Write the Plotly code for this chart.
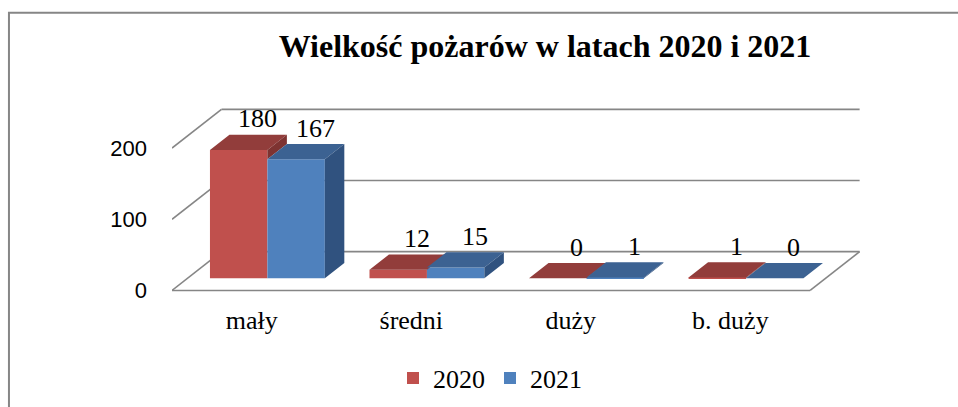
import plotly.graph_objects as go

# ---------------- data ----------------
categories = ["mały", "średni", "duży", "b. duży"]
series_names = ["2020", "2021"]
values_2020 = [180, 12, 0, 1]
values_2021 = [167, 15, 1, 0]
y_tick_values = [0, 100, 200]
chart_title = "Wielkość pożarów w latach 2020 i 2021"

# ---------------- styling / geometry ----------------
W, H = 958, 407
PX_PER_X = 159.5
PX_PER_V = 0.71
FRONT_LEFT_PX = 172
ZERO_PX = 290
X_RANGE = [-0.5, 3.85]
Y_RANGE = [-12, 262]

DX = 0.31
DY = 54.5
F1, F2 = 0.316, 0.71
BAR_W = 0.36

RED, RED_TOP, RED_SIDE = "#C0504D", "#923D3B", "#7E3331"
BLUE, BLUE_TOP, BLUE_SIDE = "#4F81BD", "#3C6292", "#30527F"
GRID = "#868686"
SERIF = "serif"
TITLE_FONT = "Liberation Serif"
SANS = "Arial"

m_l = FRONT_LEFT_PX
plot_w = PX_PER_X * (X_RANGE[1] - X_RANGE[0])
m_r = W - m_l - plot_w
m_t = ZERO_PX - PX_PER_V * Y_RANGE[1]
plot_bottom = ZERO_PX - PX_PER_V * Y_RANGE[0]
m_b = H - plot_bottom
plot_h = plot_bottom - m_t


def proj(x, v, f):
    return x + f * DX, v + f * DY


def poly(points):
    xs, ys = [], []
    for (x, v, f) in points:
        px, py = proj(x, v, f)
        xs.append(px)
        ys.append(py)
    xs.append(xs[0])
    ys.append(ys[0])
    return xs, ys


def paper_x(px):
    return (px - m_l) / plot_w


def paper_y(py):
    return (plot_bottom - py) / plot_h


fig = go.Figure()

series = [
    (series_names[0], values_2020, -1, RED, RED_TOP, RED_SIDE),
    (series_names[1], values_2021, +1, BLUE, BLUE_TOP, BLUE_SIDE),
]

annotations = []
for k, (name, vals, sgn, c_front, c_top, c_side) in enumerate(series):
    centers = [i + F1 * DX + sgn * BAR_W / 2 for i in range(len(categories))]
    fig.add_trace(go.Bar(
        x=centers, y=vals, base=[F1 * DY] * len(vals), width=BAR_W,
        name=name, marker=dict(color=c_front, line=dict(width=0)),
        hoverinfo="skip"))
    tx, ty, sx, sy = [], [], [], []
    for i, v in enumerate(vals):
        xl = i - BAR_W + (0 if sgn < 0 else BAR_W)
        xr = xl + BAR_W
        a, b = poly([(xl, v, F1), (xr, v, F1), (xr, v, F2), (xl, v, F2)])
        tx += a + [None]
        ty += b + [None]
        v_lo = min(v, values_2021[i]) if sgn < 0 else 0
        if v > v_lo:
            a, b = poly([(xr, v_lo, F1), (xr, v, F1), (xr, v, F2), (xr, v_lo, F2)])
            sx += a + [None]
            sy += b + [None]
        annotations.append(dict(
            x=centers[i] + 0.12, y=v + 61, xref="x", yref="y", text=str(v),
            showarrow=False, font=dict(family=SERIF, size=26, color="black")))
    fig.add_trace(go.Scatter(x=tx, y=ty, fill="toself", fillcolor=c_top, mode="lines",
                             line=dict(width=0, color=c_top), showlegend=False, hoverinfo="skip"))
    if sx:
        fig.add_trace(go.Scatter(x=sx, y=sy, fill="toself", fillcolor=c_side, mode="lines",
                                 line=dict(width=0, color=c_side), showlegend=False, hoverinfo="skip"))

shapes = []
def seg(p0, p1):
    shapes.append(dict(type="line", xref="x", yref="y", x0=p0[0], y0=p0[1], x1=p1[0], y1=p1[1],
                       line=dict(color=GRID, width=1.6), layer="below"))

x_lo, x_hi = -0.5, len(categories) - 0.5
for v in y_tick_values:
    seg(proj(x_lo, v, 1), proj(x_hi, v, 1))
    seg(proj(x_lo, v, 0), proj(x_lo, v, 1))
seg(proj(x_lo, 0, 0), proj(x_hi, 0, 0))
seg(proj(x_hi, 0, 0), proj(x_hi, 0, 1))

shapes.append(dict(type="rect", xref="paper", yref="paper",
                   x0=paper_x(9), x1=paper_x(980), y0=paper_y(430), y1=paper_y(13),
                   line=dict(color=GRID, width=2), fillcolor="rgba(0,0,0,0)", layer="above"))

fig.update_layout(
    width=W, height=H,
    margin=dict(l=m_l, r=m_r, t=m_t, b=m_b, pad=0),
    paper_bgcolor="white", plot_bgcolor="white",
    font=dict(family=SERIF, size=26, color="black"),
    barmode="overlay",
    title=dict(text="<b>" + chart_title + "</b>", x=545 / W, xref="container", xanchor="center",
               y=1 - 46 / H, yref="container", yanchor="middle",
               font=dict(family=TITLE_FONT, size=32, color="black")),
    xaxis=dict(range=X_RANGE, tickmode="array", tickvals=list(range(len(categories))),
               ticktext=categories, showgrid=False, zeroline=False, showline=False, ticks="",
               tickfont=dict(family=SERIF, size=26, color="black"), ticklabelstandoff=3),
    yaxis=dict(range=Y_RANGE, tickmode="array", tickvals=y_tick_values,
               showgrid=False, zeroline=False, showline=False, ticks="",
               tickfont=dict(family=SANS, size=22, color="black"), ticklabelstandoff=24),
    legend=dict(orientation="h", x=490 / W, xref="container", xanchor="center",
                y=1 - 378 / H, yref="container", yanchor="middle",
                font=dict(family=SERIF, size=26, color="black"), bgcolor="rgba(0,0,0,0)"),
    shapes=shapes, annotations=annotations, showlegend=True,
)

fig.write_html("out.html", config={"displayModeBar": False},
               post_script="document.body.style.margin='0';document.body.style.overflow='hidden';")
